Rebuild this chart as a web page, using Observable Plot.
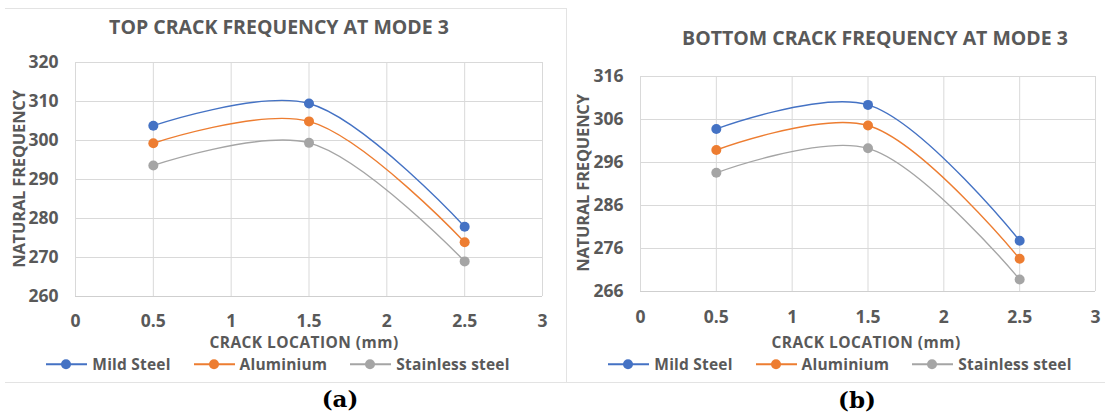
<!DOCTYPE html>
<html>
<head>
<meta charset="utf-8">
<script src="https://cdn.jsdelivr.net/npm/d3@7"></script>
<script src="https://cdn.jsdelivr.net/npm/@observablehq/plot@0.6"></script>
<style>
  html, body { margin: 0; padding: 0; background: #fff; }
  #root { position: relative; width: 1105px; height: 417px; overflow: hidden; font-family: "Open Sans", sans-serif; color: #595959; }
  .abs { position: absolute; }
  .title { font-weight: 700; font-size: 19.5px; line-height: 1.1; white-space: nowrap; transform: translate(-50%, -50%); }
  .xtitle { font-weight: 700; font-size: 15.5px; line-height: 1.0; letter-spacing: 0.45px; white-space: nowrap; transform: translate(-50%, -50%); }
  .ytitle { font-weight: 700; font-size: 16.5px; line-height: 1.05; letter-spacing: -0.2px; white-space: nowrap; transform: translate(-50%, -50%) rotate(-90deg); }
  .legend { display: flex; justify-content: center; align-items: center; gap: 23px; width: 600px; transform: translate(-50%, -50%); font-weight: 700; font-size: 15.5px; letter-spacing: 0.2px; line-height: 1.0; white-space: nowrap; }
  .item { display: flex; align-items: center; gap: 5px; }
  .sw { position: relative; width: 41px; height: 10px; }
  .sw .ln { position: absolute; left: 0; right: 0; top: 4px; height: 2px; }
  .sw .dt { position: absolute; left: 15px; top: 0; width: 10px; height: 10px; border-radius: 50%; }
  .cap { font-family: "DejaVu Serif", serif; font-weight: 700; font-size: 23px; line-height: 1.1; color: #000; transform: translate(-50%, -50%); }
  .hline { position: absolute; height: 1px; background: #e3e3e3; }
  .vline { position: absolute; width: 1px; background: #e3e3e3; }
</style>
</head>
<body>
<div id="root"></div>
<script>
// ---- data ----
const crackLocation = [0.5, 1.5, 2.5];
const seriesNames = ["Mild Steel", "Aluminium", "Stainless steel"];
const seriesColors = ["#4472C4", "#ED7D31", "#A5A5A5"];

const topMildSteel = [303.8, 309.5, 277.9];
const topAluminium = [299.3, 304.9, 273.9];
const topStainless = [293.6, 299.4, 269.0];

const bottomMildSteel = [303.8, 309.4, 277.8];
const bottomAluminium = [298.9, 304.6, 273.6];
const bottomStainless = [293.6, 299.3, 268.8];

const xTicks = [0, 0.5, 1, 1.5, 2, 2.5, 3];
const topYTicks = [260, 270, 280, 290, 300, 310, 320];
const bottomYTicks = [266, 276, 286, 296, 306, 316];

const topTitle = "TOP CRACK FREQUENCY AT MODE 3";
const bottomTitle = "BOTTOM CRACK FREQUENCY AT MODE 3";
const xLabel = "CRACK LOCATION (mm)";
const yLabel = "NATURAL FREQUENCY";

function toRows(seriesArrays) {
  const rows = [];
  seriesArrays.forEach((vals, i) => {
    vals.forEach((v, j) => rows.push({ x: crackLocation[j], y: v, series: seriesNames[i] }));
  });
  return rows;
}

function makeChart(rows, yTicks, dims) {
  return Plot.plot({
    width: dims.width,
    height: dims.height,
    marginLeft: dims.ml,
    marginRight: dims.mr,
    marginTop: dims.mt,
    marginBottom: dims.mb,
    style: { fontFamily: "Open Sans, sans-serif", fontSize: "17.5px", fontWeight: "700", color: "#595959", background: "transparent", overflow: "visible" },
    x: { domain: [0, 3] },
    y: { domain: [yTicks[0], yTicks[yTicks.length - 1]] },
    color: { domain: seriesNames, range: seriesColors },
    marks: [
      Plot.gridX(xTicks, { stroke: "#d9d9d9", strokeOpacity: 1 }),
      Plot.gridY(yTicks, { stroke: "#d9d9d9", strokeOpacity: 1 }),
      Plot.ruleY([yTicks[0]], { stroke: "#cfcfcf" }),
      Plot.axisX({ ticks: xTicks, tickSize: 0, tickPadding: dims.xpad, label: null, tickFormat: d => String(d) }),
      Plot.axisY({ ticks: yTicks, tickSize: 0, tickPadding: 17, label: null, tickFormat: d => String(d) }),
      Plot.line(rows, { x: "x", y: "y", z: "series", stroke: "series", curve: "catmull-rom", strokeWidth: 1.4 }),
      Plot.dot(rows, { x: "x", y: "y", fill: "series", r: 5 })
    ]
  });
}

const root = document.getElementById("root");

function addDiv(cls, text, left, top) {
  const d = document.createElement("div");
  d.className = "abs " + cls;
  d.textContent = text;
  d.style.left = left + "px";
  d.style.top = top + "px";
  root.appendChild(d);
  return d;
}

function addLegend(cx, cy) {
  const lg = document.createElement("div");
  lg.className = "abs legend";
  lg.style.left = cx + "px";
  lg.style.top = cy + "px";
  seriesNames.forEach((name, i) => {
    const it = document.createElement("div");
    it.className = "item";
    const sw = document.createElement("div");
    sw.className = "sw";
    const ln = document.createElement("div");
    ln.className = "ln"; ln.style.background = seriesColors[i];
    const dt = document.createElement("div");
    dt.className = "dt"; dt.style.background = seriesColors[i];
    sw.appendChild(ln); sw.appendChild(dt);
    const tx = document.createElement("span");
    tx.textContent = name;
    it.appendChild(sw); it.appendChild(tx);
    lg.appendChild(it);
  });
  root.appendChild(lg);
}

// borders
const b1 = document.createElement("div"); b1.className = "hline"; b1.style.left = "5px"; b1.style.width = "561px"; b1.style.top = "8px"; root.appendChild(b1);
const b2 = document.createElement("div"); b2.className = "vline"; b2.style.left = "566px"; b2.style.top = "8px"; b2.style.height = "374px"; root.appendChild(b2);
const b3 = document.createElement("div"); b3.className = "hline"; b3.style.left = "5px"; b3.style.width = "1100px"; b3.style.top = "382px"; root.appendChild(b3);

// left chart
const leftSvg = makeChart(toRows([topMildSteel, topAluminium, topStainless]), topYTicks,
  { width: 560, height: 382, ml: 75, mr: 18, mt: 62, mb: 86, xpad: 18 });
leftSvg.style.position = "absolute"; leftSvg.style.left = "0px"; leftSvg.style.top = "0px";
root.appendChild(leftSvg);

// right chart
const rightSvg = makeChart(toRows([bottomMildSteel, bottomAluminium, bottomStainless]), bottomYTicks,
  { width: 539, height: 382, ml: 74, mr: 10, mt: 76, mb: 91, xpad: 19 });
rightSvg.style.position = "absolute"; rightSvg.style.left = "566px"; rightSvg.style.top = "0px";
root.appendChild(rightSvg);

// texts
addDiv("title", topTitle, 279, 27);
addDiv("title", bottomTitle, 875, 38);
addDiv("xtitle", xLabel, 304, 343);
addDiv("xtitle", xLabel, 866, 343);
addDiv("ytitle", yLabel, 19, 179);
addDiv("ytitle", yLabel, 583, 183);
addLegend(278, 364.5);
addLegend(840, 364.5);
addDiv("cap", "(a)", 340, 399);
addDiv("cap", "(b)", 857, 400);
</script>
</body>
</html>
